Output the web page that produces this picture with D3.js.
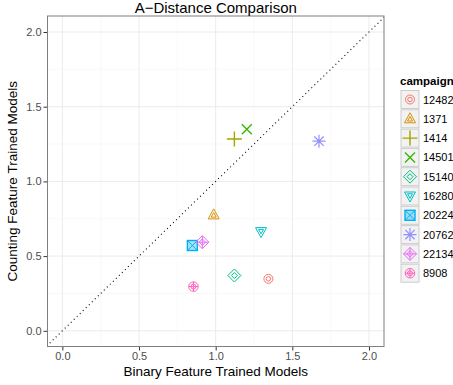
<!DOCTYPE html>
<html>
<head>
<meta charset="utf-8">
<script src="https://cdn.jsdelivr.net/npm/d3@7"></script>
<style>
  body { margin: 0; background: #fff; }
  text { font-family: "Liberation Sans", Arial, sans-serif; }
</style>
</head>
<body>
<svg id="chart" width="453" height="385"></svg>
<script>
var width = 453, height = 385;

// data
var campaigns = ["12482", "1371", "1414", "14501", "15140", "16280", "20224", "20762", "22134", "8908"];
var binaryVals = [1.344, 0.987, 1.122, 1.203, 1.122, 1.296, 0.848, 1.674, 0.913, 0.855];
var countingVals = [0.348, 0.776, 1.284, 1.349, 0.370, 0.664, 0.571, 1.269, 0.593, 0.296];
var colors = ["#F8766D", "#D89000", "#A3A500", "#39B600", "#00BF7D", "#00BFC4", "#00B0F6", "#9590FF", "#E76BF3", "#FF62BC"];
var shapes = ["circle2", "triangle2", "plus", "cross", "diamond2", "triangleDown2", "squareX", "asterisk", "diamondPlus", "circlePlus"];
var xTicks = [0, 0.5, 1, 1.5, 2];
var yTicks = [0, 0.5, 1, 1.5, 2];

var panel = {left: 47.5, top: 16, right: 384, bottom: 346.5};

var x = d3.scaleLinear().domain([-0.097, 2.098]).range([panel.left, panel.right]);
var y = d3.scaleLinear().domain([-0.105, 2.107]).range([panel.bottom, panel.top]);

var svg = d3.select("#chart");

svg.append("rect")
    .attr("x", panel.left).attr("y", panel.top)
    .attr("width", panel.right - panel.left).attr("height", panel.bottom - panel.top)
    .style("fill", "#fff");

// minor grid
var minorX = [0.25, 0.75, 1.25, 1.75];
var minorY = [0.25, 0.75, 1.25, 1.75];
svg.selectAll(".minx").data(minorX).enter().append("line")
    .attr("x1", function(d){return x(d)}).attr("x2", function(d){return x(d)})
    .attr("y1", panel.top).attr("y2", panel.bottom)
    .style("stroke", "#F5F5F5").style("stroke-width", 0.6);
svg.selectAll(".miny").data(minorY).enter().append("line")
    .attr("y1", function(d){return y(d)}).attr("y2", function(d){return y(d)})
    .attr("x1", panel.left).attr("x2", panel.right)
    .style("stroke", "#F5F5F5").style("stroke-width", 0.6);

// major grid
svg.selectAll(".majx").data(xTicks).enter().append("line")
    .attr("x1", function(d){return x(d)}).attr("x2", function(d){return x(d)})
    .attr("y1", panel.top).attr("y2", panel.bottom)
    .style("stroke", "#EBEBEB").style("stroke-width", 1);
svg.selectAll(".majy").data(yTicks).enter().append("line")
    .attr("y1", function(d){return y(d)}).attr("y2", function(d){return y(d)})
    .attr("x1", panel.left).attr("x2", panel.right)
    .style("stroke", "#EBEBEB").style("stroke-width", 1);

// diagonal y = x
svg.append("clipPath").attr("id", "clip")
  .append("rect")
    .attr("x", panel.left).attr("y", panel.top)
    .attr("width", panel.right - panel.left).attr("height", panel.bottom - panel.top);
svg.append("line")
    .attr("clip-path", "url(#clip)")
    .attr("x1", x(-0.2)).attr("y1", y(-0.2))
    .attr("x2", x(2.2)).attr("y2", y(2.2))
    .style("stroke", "#000").style("stroke-width", 1.1)
    .style("stroke-dasharray", "1,3.2");

// axes
var xAxis = svg.append("g")
    .attr("transform", "translate(0," + panel.bottom + ")")
    .call(d3.axisBottom(x).tickValues(xTicks).tickFormat(d3.format(".1f")).tickSize(4).tickPadding(2));
var yAxis = svg.append("g")
    .attr("transform", "translate(" + panel.left + ",0)")
    .call(d3.axisLeft(y).tickValues(yTicks).tickFormat(d3.format(".1f")).tickSize(4).tickPadding(2));
[xAxis, yAxis].forEach(function(a){
    a.select(".domain").remove();
    a.selectAll(".tick line").style("stroke", "#333").style("stroke-width", 1);
    a.selectAll(".tick text").style("fill", "#4D4D4D").style("font-size", "11px")
        .style("font-family", "'Liberation Sans', Arial, sans-serif");
});

// panel border
svg.append("rect")
    .attr("x", panel.left).attr("y", panel.top)
    .attr("width", panel.right - panel.left).attr("height", panel.bottom - panel.top)
    .style("fill", "none").style("stroke", "#7F7F7F").style("stroke-width", 1);

// shape drawing
function drawShape(g, shape, color, s) {
    var sw = 1;
    function add(tag) { return g.append(tag).style("fill", "none").style("stroke", color).style("stroke-width", sw); }
    function poly(pts) { add("path").attr("d", "M" + pts.map(function(p){return p.join(",")}).join("L") + "Z"); }
    switch (shape) {
    case "circle2":
        add("circle").attr("r", s * 0.9);
        add("circle").attr("r", s * 0.45);
        break;
    case "triangle2":
        poly([[0, -s * 1.2], [s * 1.1, s * 0.8], [-s * 1.1, s * 0.8]]);
        poly([[0, -s * 0.45], [s * 0.5, s * 0.45], [-s * 0.5, s * 0.45]]);
        break;
    case "triangleDown2":
        poly([[0, s * 1.2], [s * 1.1, -s * 0.8], [-s * 1.1, -s * 0.8]]);
        poly([[0, s * 0.45], [s * 0.5, -s * 0.45], [-s * 0.5, -s * 0.45]]);
        break;
    case "plus":
        add("path").attr("d", "M" + (-s * 1.5) + ",0H" + (s * 1.5) + "M0," + (-s * 1.5) + "V" + (s * 1.5)).style("stroke-width", 1.4);
        break;
    case "cross":
        add("path").attr("d", "M" + (-s) + "," + (-s) + "L" + s + "," + s + "M" + s + "," + (-s) + "L" + (-s) + "," + s).style("stroke-width", 1.4);
        break;
    case "diamond2":
        poly([[0, -s * 1.3], [s * 1.3, 0], [0, s * 1.3], [-s * 1.3, 0]]);
        poly([[0, -s * 0.6], [s * 0.6, 0], [0, s * 0.6], [-s * 0.6, 0]]);
        break;
    case "squareX":
        g.append("rect").attr("x", -s).attr("y", -s).attr("width", 2 * s).attr("height", 2 * s)
            .style("fill", color).style("fill-opacity", 0.35).style("stroke", color).style("stroke-width", 1.4);
        add("path").attr("d", "M" + (-s) + "," + (-s) + "L" + s + "," + s + "M" + s + "," + (-s) + "L" + (-s) + "," + s);
        break;
    case "asterisk":
        var r = s * 1.3;
        add("path").attr("d",
            "M" + (-r) + ",0H" + r + "M0," + (-r) + "V" + r +
            "M" + (-r * 0.72) + "," + (-r * 0.72) + "L" + (r * 0.72) + "," + (r * 0.72) +
            "M" + (r * 0.72) + "," + (-r * 0.72) + "L" + (-r * 0.72) + "," + (r * 0.72)).style("stroke-width", 1.2);
        break;
    case "diamondPlus":
        var q = s * 1.3;
        poly([[0, -q], [q, 0], [0, q], [-q, 0]]);
        add("path").attr("d", "M" + (-q) + ",0H" + q + "M0," + (-q) + "V" + q);
        poly([[0, -q * 0.5], [q * 0.5, 0], [0, q * 0.5], [-q * 0.5, 0]]);
        break;
    case "circlePlus":
        add("circle").attr("r", s * 0.95);
        add("circle").attr("r", s * 0.5);
        add("path").attr("d", "M" + (-s * 0.95) + ",0H" + (s * 0.95) + "M0," + (-s * 0.95) + "V" + (s * 0.95));
        break;
    }
}

// points
campaigns.forEach(function(c, i) {
    var g = svg.append("g").attr("transform", "translate(" + x(binaryVals[i]) + "," + y(countingVals[i]) + ")");
    drawShape(g, shapes[i], colors[i], 5);
});

// title and axis titles
svg.append("text")
    .attr("x", (panel.left + panel.right) / 2).attr("y", 13)
    .attr("text-anchor", "middle").style("font-size", "15px").style("fill", "#000")
    .text("A\u2212Distance Comparison");
svg.append("text")
    .attr("x", (panel.left + panel.right) / 2).attr("y", 376)
    .attr("text-anchor", "middle").style("font-size", "13.5px").style("fill", "#000")
    .text("Binary Feature Trained Models");
svg.append("text")
    .attr("transform", "translate(17," + ((panel.top + panel.bottom) / 2) + ") rotate(-90)")
    .attr("text-anchor", "middle").style("font-size", "13.5px").style("fill", "#000")
    .text("Counting Feature Trained Models");

// legend
var legend = svg.append("g").attr("transform", "translate(400,0)");
legend.append("text")
    .attr("x", 0).attr("y", 84.5)
    .style("font-size", "11.5px").style("font-weight", "bold")
    .text("campaign");
campaigns.forEach(function(c, i) {
    var top = 90.5 + i * 19.3;
    legend.append("rect")
        .attr("x", 1).attr("y", top).attr("width", 18).attr("height", 18)
        .style("fill", "#F2F2F2").style("stroke", "#CCCCCC").style("stroke-width", 1);
    var g = legend.append("g").attr("transform", "translate(10," + (top + 9) + ")");
    drawShape(g, shapes[i], colors[i], 5);
    legend.append("text")
        .attr("x", 23).attr("y", top + 13)
        .style("font-size", "11px").style("fill", "#000")
        .text(c);
});
</script>
</body>
</html>
